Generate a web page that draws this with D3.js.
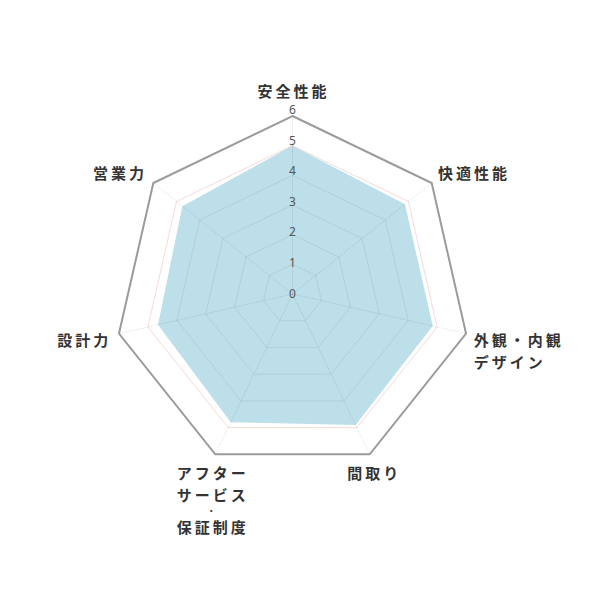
<!DOCTYPE html>
<html>
<head>
<meta charset="utf-8">
<script src="https://cdn.jsdelivr.net/npm/d3@7"></script>
<style>
  body { margin: 0; background: #fff; }
</style>
</head>
<body>
<div id="radar"></div>
<script>
// categories (clockwise from top), "\n" = line break
const categories = [
  "安全性能",
  "快適性能",
  "外観・内観\nデザイン",
  "間取り",
  "アフター\nサービス\n・\n保証制度",
  "設計力",
  "営業力",
];
const values = [5, 4.85, 4.85, 4.9, 4.8, 4.65, 4.75];
const ticks = [0, 1, 2, 3, 4, 5, 6];

const width = 600;
const height = 600;
const cx = 292.5;
const cy = 294;
const radius = 178;

const svg = d3
  .select("#radar")
  .append("svg")
  .attr("width", width)
  .attr("height", height);

const g = svg.append("g").attr("transform", `translate(${cx}, ${cy})`);

const r = d3.scaleLinear().domain([0, 6]).range([0, radius]);
const angle = d3
  .scaleLinear()
  .domain([0, categories.length])
  .range([0, 2 * Math.PI]);

const ring = (v) =>
  d3
    .lineRadial()
    .angle((d, i) => angle(i))
    .radius(() => r(v))
    .curve(d3.curveLinearClosed)(categories);

// data area
g.append("path")
  .datum(values)
  .attr(
    "d",
    d3
      .lineRadial()
      .angle((d, i) => angle(i))
      .radius((d) => r(d))
      .curve(d3.curveLinearClosed)
  )
  .attr("fill", "#bddfea")
  .attr("stroke", "none");

// grid rings 1..5
g.append("g")
  .selectAll("path")
  .data(ticks.filter((t) => t > 0 && t < 6))
  .join("path")
  .attr("d", (d) => ring(d))
  .attr("fill", "none")
  .attr("stroke", (d) =>
    d === 5 ? "rgba(225,150,140,0.35)" : "rgba(0,0,0,0.07)"
  )
  .attr("stroke-width", 1);

// spokes (dotted)
g.append("g")
  .selectAll("line")
  .data(categories)
  .join("line")
  .attr("x1", 0)
  .attr("y1", 0)
  .attr("x2", (d, i) => r(6) * Math.sin(angle(i)))
  .attr("y2", (d, i) => -r(6) * Math.cos(angle(i)))
  .attr("stroke", "rgba(0,0,0,0.12)")
  .attr("stroke-dasharray", "1,1");

// outer ring
g.append("path")
  .attr("d", ring(6))
  .attr("fill", "none")
  .attr("stroke", "#9b9b9b")
  .attr("stroke-width", 2);

// tick labels
g.append("g")
  .selectAll("text")
  .data(ticks)
  .join("text")
  .attr("x", 0)
  .attr("y", (d) => -r(d) - 1 - d * 0.85)
  .attr("text-anchor", "middle")
  .attr("dominant-baseline", "central")
  .attr("font-family", "'Noto Sans', 'Noto Sans CJK JP', sans-serif")
  .attr("font-size", 12)
  .attr("fill", "#555")
  .text((d) => d);

// axis labels
const labelR = radius + 8;
const labels = g
  .append("g")
  .attr("font-family", "'Noto Sans CJK JP', sans-serif")
  .attr("font-size", 15)
  .attr("font-weight", 700)
  .attr("letter-spacing", 3)
  .attr("fill", "#333")
  .selectAll("text")
  .data(categories)
  .join("text")
  .each(function (d, i) {
    const a = angle(i);
    const s = Math.sin(a);
    const c = Math.cos(a);
    const x = labelR * s;
    const y = -labelR * c;
    const lines = d.split("\n");
    const anchor = Math.abs(s) < 0.5 ? "middle" : s > 0 ? "start" : "end";
    // first line centre
    let y0;
    if (c > 0.3) y0 = y - 6 - (Math.abs(s) < 0.1 ? 12 : 0);
    else if (c < -0.3) y0 = y + 10;
    else y0 = y + 4;
    const t = d3
      .select(this)
      .attr("text-anchor", anchor)
      .attr("dominant-baseline", "central");
    let yy = y0;
    lines.forEach((line, k) => {
      const dot = line === "・";
      if (k > 0) {
        const small = dot || lines[k - 1] === "・";
        yy += small ? 16 : 22;
      }
      t.append("tspan")
        .attr("x", x + (anchor === "middle" ? 1 : 0))
        .attr("y", yy)
        .attr("font-size", dot ? 8 : null)
        .text(line);
    });
  });
</script>
</body>
</html>
